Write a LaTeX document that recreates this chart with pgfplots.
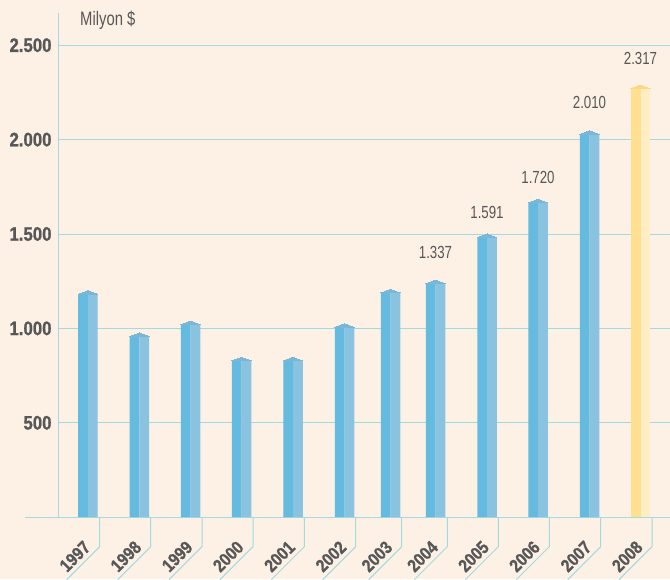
\documentclass[border=0pt]{standalone}
\usepackage{fontspec}
\setmainfont{Liberation Sans}
\newfontfamily\condfont{Liberation Sans}[FakeStretch=0.76]
\newfontfamily\heavyfont{Liberation Sans Bold}[FakeStretch=0.86, FakeBold=0.9]
\usepackage{pgfplots}
\pgfplotsset{compat=1.18}

\definecolor{bgc}{HTML}{FDF0E5}
\definecolor{gridc}{HTML}{A3DAE2}
\definecolor{labc}{HTML}{575757}
\definecolor{blueL}{HTML}{64BADF}
\definecolor{blueR}{HTML}{8AC3E0}
\definecolor{blueT}{HTML}{7AB7D7}
\definecolor{yelL}{HTML}{FFE091}
\definecolor{yelR}{HTML}{FFEDC4}
\definecolor{yelT}{HTML}{FFD77E}

% bar heights (peak of the bar top), x = bar centre
\pgfplotstableread{
x      y
88     1200
139.5  976
190.5  1039
241.5  847
293    847
344.5  1025
390.5  1207
435.5  1256
487    1500
538    1684
589.5  2047
}\bluebars
\pgfplotstableread{
x      y
640.5  2289
}\yellowbars

\begin{document}
\begin{tikzpicture}
\fill[bgc] (-59pt,-61.8pt) rectangle (611pt,517.2pt);
\begin{axis}[
    scale only axis,
    width=611pt,
    height=504.2pt,
    xmin=59, xmax=670,
    ymin=0, ymax=2670.6,
    axis x line*=bottom,
    axis y line*=left,
    axis line style={gridc, line width=1pt},
    ymajorgrids,
    grid style={gridc, line width=1pt},
    major tick length=0pt,
    ytick={500,1000,1500,2000,2500},
    yticklabels={500,1.000,1.500,2.000,2.500},
    yticklabel style={font=\heavyfont\fontsize{19.5}{20}\selectfont,
        text=labc, inner sep=0pt, anchor=east, xshift=-7.3pt},
    xtick={91.6,142.6,193.9,244.9,296.2,347.6,393.6,439.2,490.2,541.2,592.6,643.9},
    xticklabels={1997,1998,1999,2000,2001,2002,2003,2004,2005,2006,2007,2008},
    xticklabel style={font=\heavyfont\fontsize{18}{18}\selectfont,
        text=labc, inner sep=0pt, anchor=base east, rotate=45},
    xticklabel shift=31.3pt,
    clip=false,
]
\draw[gridc, line width=1pt] (axis cs:25,0) -- (axis cs:59,0);
\pgfplotsinvokeforeach{99.7,150.7,202,253,304.3,355.7,401.7,447.3,498.3,549.3,600.7,652}{
  \draw[gridc, line width=1pt] (axis cs:#1,0) -- ++(0pt,-29.5pt) -- ++(-33pt,-33pt);
}

\addplot[ybar, bar width=9.75pt, bar shift=-4.875pt, fill=blueL, draw=none,
    y filter/.expression={y-18.5}] table {\bluebars};
\addplot[ybar, bar width=9.75pt, bar shift=4.875pt, fill=blueR, draw=none,
    y filter/.expression={y-18.5}] table {\bluebars};
\addplot[only marks, color=blueT, mark=triangle*, mark size=11.26pt,
    mark options={fill=blueT, draw=blueT, line width=0pt, yscale=0.207},
    y filter/.expression={y-12.3}] table {\bluebars};

\addplot[ybar, bar width=9.75pt, bar shift=-4.875pt, fill=yelL, draw=none,
    y filter/.expression={y-18.5}] table {\yellowbars};
\addplot[ybar, bar width=9.75pt, bar shift=4.875pt, fill=yelR, draw=none,
    y filter/.expression={y-18.5}] table {\yellowbars};
\addplot[only marks, color=yelT, mark=triangle*, mark size=11.26pt,
    mark options={fill=yelT, draw=yelT, line width=0pt, yscale=0.207},
    y filter/.expression={y-12.3}] table {\yellowbars};

% value labels above the last five bars
\addplot[draw=none, mark=none, nodes near coords, point meta=explicit symbolic,
    nodes near coords style={font=\condfont\fontsize{17.5}{18}\selectfont,
        text=labc, anchor=center, inner sep=0pt}]
    coordinates {(435.5,1401)[1.337] (487,1613)[1.591] (538,1802)[1.720]
                 (589.5,2195)[2.010] (640.5,2431)[2.317]};

\node[anchor=base west, inner sep=0pt, text=labc,
    font=\condfont\fontsize{19.5}{20}\selectfont] at (axis cs:80,2607) {Milyon \$};
\end{axis}
\pgfresetboundingbox
\path[use as bounding box] (-59pt,-61.8pt) rectangle (611pt,517.2pt);
\end{tikzpicture}
\end{document}
